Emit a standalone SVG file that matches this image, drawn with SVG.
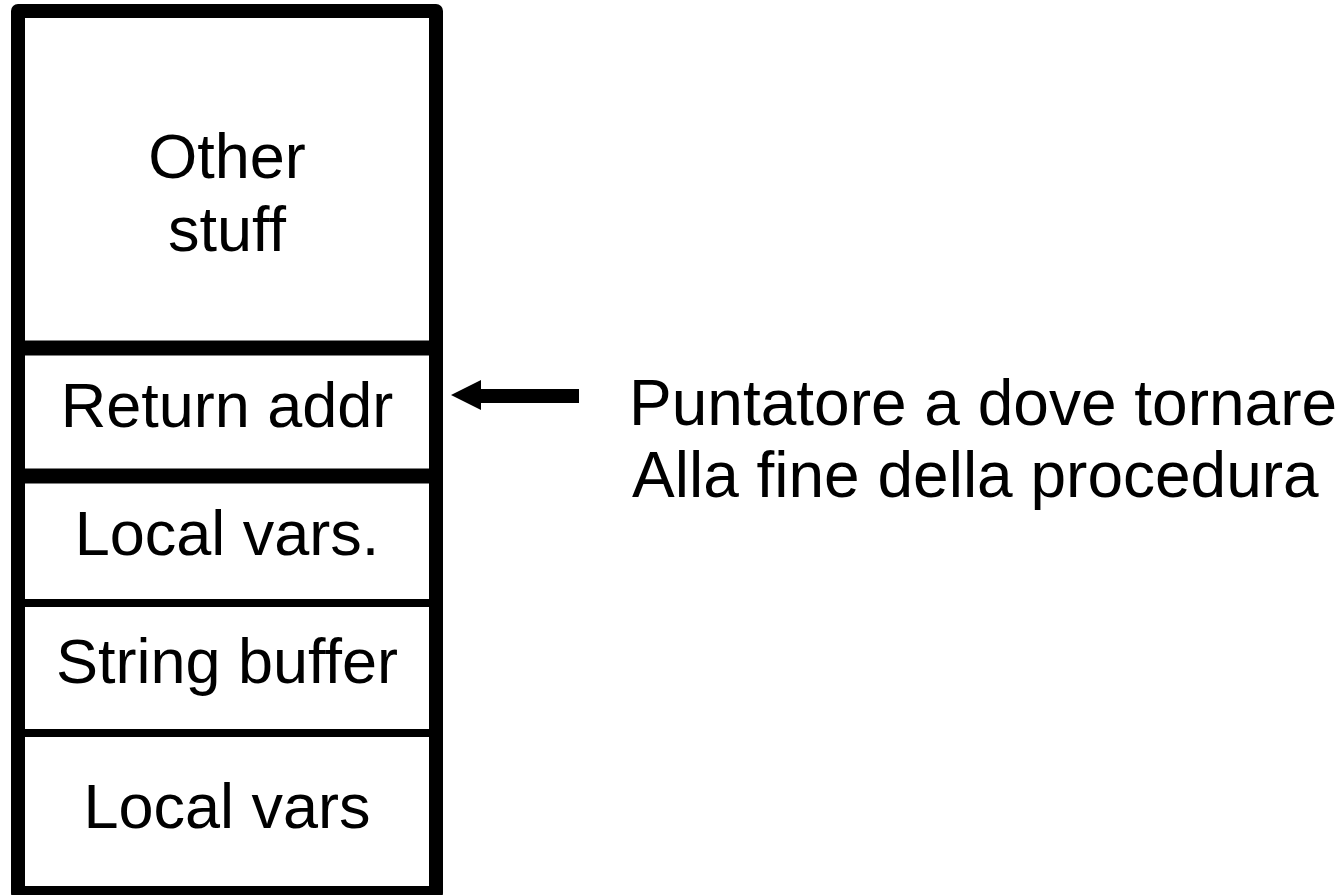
<svg xmlns="http://www.w3.org/2000/svg" width="1344" height="895" viewBox="0 0 1344 895">
  <style>
    .lbl { font-family: "Liberation Sans", Arial, sans-serif; font-size: 63px; fill: #000; }
    .note { font-size: 64px; }
    .mid { text-anchor: middle; }
    .frame { fill: #fff; stroke: #000; stroke-width: 14; stroke-linejoin: round; }
    .thick { stroke: #000; stroke-width: 15; }
    .thin { stroke: #000; stroke-width: 8; }
  </style>
  <rect width="1344" height="895" fill="#fff"/>

  <!-- stack frame -->
  <g id="stack">
    <rect class="frame" x="18" y="11" width="418" height="882"/>
    <line class="thick" x1="18" y1="348" x2="436" y2="348"/>
    <line class="thick" x1="18" y1="476" x2="436" y2="476"/>
    <line class="thin" x1="18" y1="603" x2="436" y2="603"/>
    <line class="thin" x1="18" y1="733" x2="436" y2="733"/>
  </g>

  <g id="other-stuff">
    <text class="lbl mid" x="227" y="178">Other</text>
    <text class="lbl mid" x="227" y="251">stuff</text>
  </g>
  <g id="return-addr">
    <text class="lbl mid" x="227" y="427">Return addr</text>
  </g>
  <g id="local-vars-1">
    <text class="lbl mid" x="227" y="555">Local vars.</text>
  </g>
  <g id="string-buffer">
    <text class="lbl mid" x="227" y="683">String buffer</text>
  </g>
  <g id="local-vars-2">
    <text class="lbl mid" x="227" y="828">Local vars</text>
  </g>

  <g id="note">
    <text class="lbl note" x="629" y="425">Puntatore a dove tornare</text>
    <text class="lbl note" x="632" y="497">Alla fine della procedura</text>
  </g>

  <!-- pointer arrow -->
  <g id="connectors">
    <polygon points="451,395 481,380 481,389 579,389 579,403 481,403 481,410" fill="#000"/>
  </g>
</svg>
